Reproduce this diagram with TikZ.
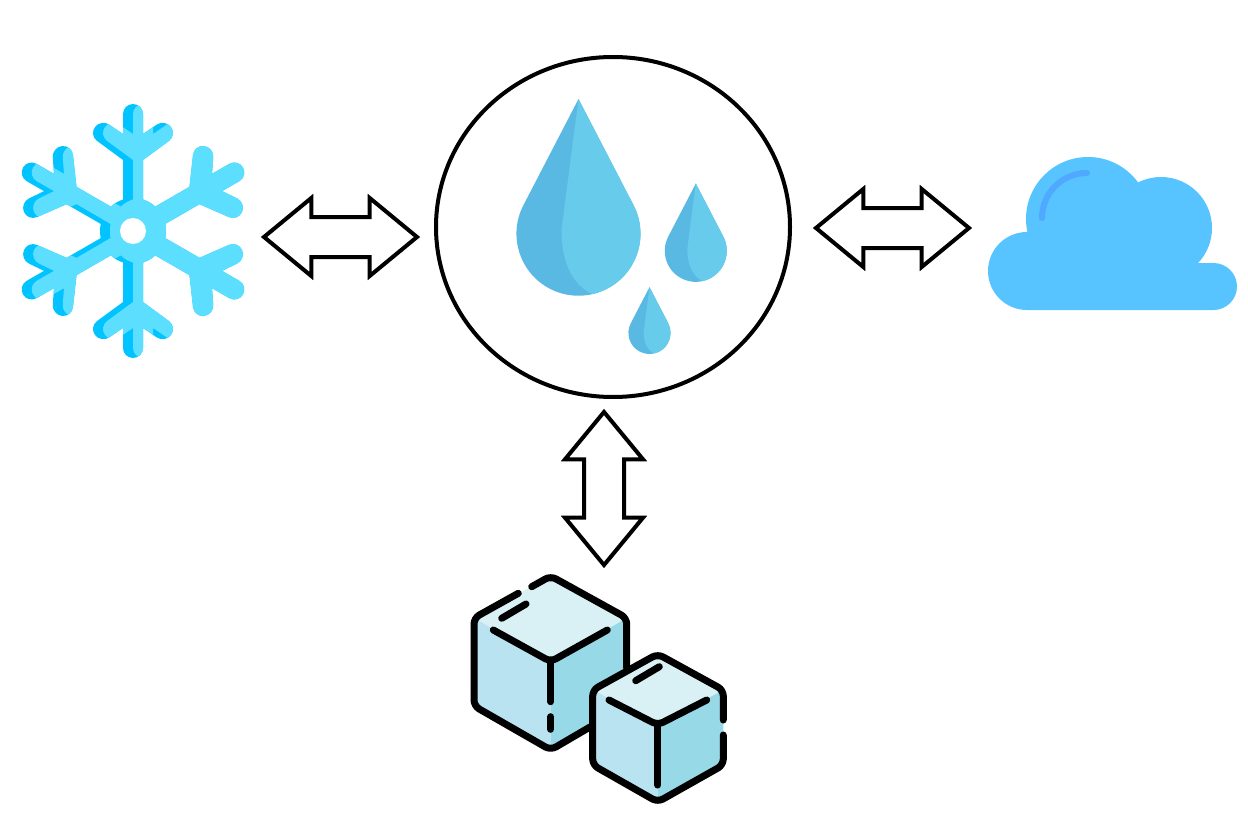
\documentclass[tikz,border=0pt]{standalone}
\usetikzlibrary{shapes.geometric, shapes.arrows}

\definecolor{flakedark}{HTML}{00C3FF}
\definecolor{flakelight}{HTML}{5CDFFF}
\definecolor{dropdark}{HTML}{5AB9E3}
\definecolor{droplight}{HTML}{67CBEC}
\definecolor{cloudblue}{HTML}{57C4FF}
\definecolor{cloudline}{HTML}{4FA9FF}
\definecolor{icetop}{HTML}{D9F1F4}
\definecolor{iceleft}{HTML}{B9E3F0}
\definecolor{iceright}{HTML}{97D9E6}

\tikzset{
	exchange/.style={double arrow, draw, line width=4, fill=white, inner xsep=0, inner ysep=18, outer sep=0,
		minimum width=74, minimum height=153, double arrow head extend=19,
		double arrow tip angle=79, double arrow head indent=0},
	iceline/.style={line width=7, line cap=round, line join=round, rounded corners=6}
}

\newcommand{\flakearm}{(-10,0) -- (-10,-71) [rounded corners=10] -- (-44,-96) -- (-32,-112) [sharp corners] -- (-10,-97) [rounded corners=10] -- (-10,-127) -- (10,-127) [sharp corners] -- (10,-97) [rounded corners=10] -- (32,-112) -- (44,-96) [sharp corners] -- (10,-71) -- (10,0) -- cycle}
\newcommand{\flakeall}{
	\foreach \a in {0,60,...,300} \fill[rotate=\a] \flakearm;
	\fill (0,0) circle[radius=33];
}
\newcommand{\waterdrop}[3]{
	\begin{scope}[shift={(#1,#2)}, scale=#3]
		\fill[dropdark] (0,-135) -- (-55,-29) arc[start angle=207.6, end angle=-27.6, radius=62] -- cycle;
		\fill[droplight] (0,-135) -- (55,-29) arc[start angle=-27.6, end angle=77, radius=62] .. controls (-8,50) and (-17,25) .. (-17,-4) -- cycle;
	\end{scope}
}

\begin{document}
\begin{tikzpicture}[x=1pt, y=-1pt]

	\useasboundingbox (0,0) rectangle (1248,824);

	\begin{scope}[shift={(133,231)}]
		\begin{scope}[flakedark]
			\flakeall
		\end{scope}
		\foreach \b in {0,60,120,180} {
			\begin{scope}
				\clip[rotate=\b] \flakearm;
				\begin{scope}[shift={(10,0)}, flakelight]
					\flakeall
				\end{scope}
			\end{scope}
		}
		\begin{scope}
			\clip (0,0) circle[radius=33];
			\begin{scope}[shift={(10,0)}, flakelight]
				\flakeall
			\end{scope}
		\end{scope}
		\foreach \a in {240,300} \fill[flakelight, rotate=\a] \flakearm;
		\fill[white] (0,0) circle[radius=13];
	\end{scope}

	\node[ellipse, draw, line width=4, minimum width=354, minimum height=340, inner sep=0, outer sep=0] (water) at (613,227) {};
	\waterdrop{578.5}{234}{1}
	\waterdrop{695.8}{251}{0.5}
	\waterdrop{649.5}{333}{0.34}

	\fill[cloudblue] (1027,271) circle[radius=39] (1088,219) circle[radius=62] (1161,228) circle[radius=51] (1213.5,286.5) circle[radius=23.5];
	\fill[cloudblue] (1027,232) rectangle (1190,310) (1190,263) rectangle (1213.5,310);
	\draw[cloudline, line width=6, line cap=round] (1042,218) arc[start angle=180, end angle=270, radius=45];

	\node[exchange] (snowlink) at (340.5,237) {};
	\node[exchange] (cloudlink) at (892.5,228) {};
	\node[exchange, rotate=90] (icelink) at (604,488.5) {};

	\fill[icetop] (550.7,576) -- (627,618) -- (550.7,662) -- (474,618) -- cycle;
	\fill[iceleft] (474,618) -- (550.7,662) -- (550.7,751) -- (474,707) -- cycle;
	\fill[iceright] (627,618) -- (550.7,662) -- (550.7,751) -- (627,707) -- cycle;
	\draw[iceline] (531.7,586.7) -- (550.7,576) -- (626.7,618) -- (626.7,668);
	\draw[iceline] (518.3,593.3) -- (474,618) -- (474,706) -- (550.7,750) -- (590,727);
	\draw[iceline] (493.3,630) -- (550.7,661.7) -- (607.3,630);
	\draw[iceline] (550.7,661.7) -- (550.7,701.7);
	\draw[iceline] (550.7,716.7) -- (550.7,729.3);
	\draw[iceline] (501.7,618.3) -- (526,604);

	\fill[icetop] (657.7,654) -- (723.3,690) -- (657.7,725) -- (592.7,690) -- cycle;
	\fill[iceleft] (592.7,690) -- (657.7,725) -- (657.7,802) -- (592.7,765) -- cycle;
	\fill[iceright] (723.3,690) -- (657.7,725) -- (657.7,802) -- (723.3,765) -- cycle;
	\draw[iceline] (723.3,720) -- (723.3,690) -- (657.7,654) -- (592.7,690) -- (592.7,765) -- (657.7,802) -- (723.3,765) -- (723.3,735);
	\draw[iceline] (609,700) -- (657.7,725) -- (706.7,700);
	\draw[iceline] (657.7,725) -- (657.7,785);
	\draw[iceline] (635.7,680.7) -- (659.3,666.7);

\end{tikzpicture}
\end{document}
